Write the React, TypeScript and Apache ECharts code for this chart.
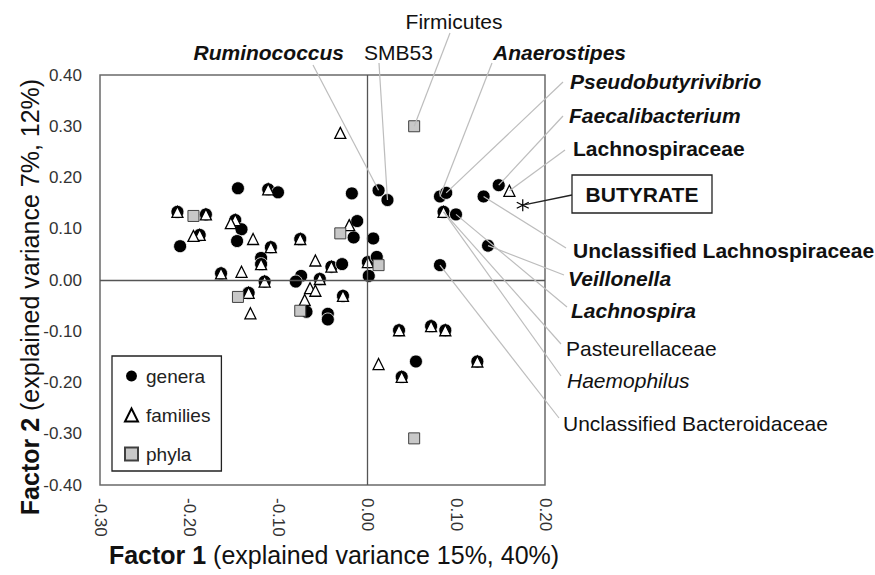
import React, { useEffect, useRef } from "react";
import * as echarts from "echarts";

const FONT = "'Liberation Sans', Arial, Helvetica, sans-serif";

// ---------- data (Factor 1, Factor 2) ----------
const genera: number[][] = [
  [-0.145, 0.179], [-0.213, 0.133], [-0.181, 0.128], [-0.148, 0.117], [-0.141, 0.099],
  [-0.146, 0.076], [-0.188, 0.088], [-0.210, 0.066], [-0.111, 0.177], [-0.100, 0.171],
  [-0.017, 0.169], [-0.108, 0.064], [-0.075, 0.080], [-0.011, 0.115], [-0.015, 0.083],
  [-0.119, 0.043], [-0.119, 0.031], [-0.164, 0.013], [-0.115, -0.003], [-0.133, -0.025],
  [-0.074, 0.008], [-0.080, -0.003], [-0.053, 0.002], [-0.040, 0.026], [-0.028, 0.031],
  [-0.027, -0.031], [-0.068, -0.062], [-0.044, -0.066], [-0.044, -0.077], [0.002, 0.008],
  [0.001, 0.035], [0.007, 0.081], [0.011, 0.045],
  [0.013, 0.175], // 33 Ruminococcus
  [0.023, 0.156], // 34 SMB53
  [0.082, 0.163], // 35 Anaerostipes
  [0.089, 0.170], // 36 Pseudobutyrivibrio
  [0.086, 0.133], // 37 Haemophilus
  [0.100, 0.128], // 38 Lachnospira
  [0.131, 0.163], // 39 Unclassified Lachnospiraceae
  [0.148, 0.185], // 40 Faecalibacterium
  [0.136, 0.067], // 41 Veillonella
  [0.082, 0.029], // 42 Unclassified Bacteroidaceae
  [0.036, -0.098], [0.072, -0.090], [0.088, -0.098], [0.055, -0.159], [0.124, -0.159],
  [0.039, -0.189],
];

const families: number[][] = [
  [-0.213, 0.133], [-0.181, 0.128], [-0.148, 0.117], [-0.188, 0.088], [-0.111, 0.177],
  [-0.108, 0.064], [-0.075, 0.080], [-0.119, 0.031], [-0.164, 0.013], [-0.115, -0.003],
  [-0.133, -0.025], [-0.053, 0.002], [-0.040, 0.026], [-0.027, -0.031], [0.001, 0.035],
  [0.086, 0.133], // 15 Pasteurellaceae
  [0.036, -0.098], [0.072, -0.090], [0.088, -0.098], [0.124, -0.159], [0.039, -0.189],
  [-0.153, 0.111], [-0.128, 0.080], [-0.195, 0.086], [-0.141, 0.016], [-0.131, -0.065],
  [-0.058, 0.038], [-0.070, -0.039], [-0.064, -0.016], [-0.058, -0.021], [-0.020, 0.107],
  [-0.030, 0.287],
  [0.160, 0.174], // 32 Lachnospiraceae
  [0.013, -0.164],
];

const phyla: number[][] = [
  [-0.195, 0.125], [-0.145, -0.033], [-0.075, -0.060], [-0.030, 0.091], [0.013, 0.029],
  [0.053, 0.300], // 5 Firmicutes
  [0.053, -0.309],
];

const butyrate: number[][] = [[0.175, 0.146]];

const xTicks = { min: -0.3, max: 0.2, interval: 0.1 };
const yTicks = { min: -0.4, max: 0.4, interval: 0.1 };

const legendNames = ["genera", "families", "phyla"];

// annotation texts and which point they refer to
const annotations = [
  { text: "Ruminococcus", kind: "g", idx: 33, weight: "bold", italic: true },
  { text: "SMB53", kind: "g", idx: 34, weight: "normal", italic: false },
  { text: "Firmicutes", kind: "p", idx: 5, weight: "normal", italic: false },
  { text: "Anaerostipes", kind: "g", idx: 35, weight: "bold", italic: true },
  { text: "Pseudobutyrivibrio", kind: "g", idx: 36, weight: "bold", italic: true },
  { text: "Faecalibacterium", kind: "g", idx: 40, weight: "bold", italic: true },
  { text: "Lachnospiraceae", kind: "f", idx: 32, weight: "bold", italic: false },
  { text: "Unclassified Lachnospiraceae", kind: "g", idx: 39, weight: "bold", italic: false },
  { text: "Veillonella", kind: "g", idx: 41, weight: "bold", italic: true },
  { text: "Lachnospira", kind: "g", idx: 38, weight: "bold", italic: true },
  { text: "Pasteurellaceae", kind: "f", idx: 15, weight: "normal", italic: false },
  { text: "Haemophilus", kind: "g", idx: 37, weight: "normal", italic: true },
  { text: "Unclassified Bacteroidaceae", kind: "g", idx: 42, weight: "normal", italic: false },
];

// layout (pixel) of each annotation: text anchor, alignment, leader start
const annotationLayout: Record<string, { tx: number; ty: number; align: string; lx: number; ly: number }> = {
  Ruminococcus: { tx: 344, ty: 52, align: "right", lx: 313, ly: 65 },
  SMB53: { tx: 364, ty: 52, align: "left", lx: 379, ly: 63 },
  Firmicutes: { tx: 454, ty: 21, align: "center", lx: 450, ly: 33 },
  Anaerostipes: { tx: 493, ty: 52, align: "left", lx: 492, ly: 63 },
  Pseudobutyrivibrio: { tx: 570, ty: 81, align: "left", lx: 563, ly: 82 },
  Faecalibacterium: { tx: 569, ty: 115, align: "left", lx: 563, ly: 116 },
  Lachnospiraceae: { tx: 573, ty: 148, align: "left", lx: 565, ly: 150 },
  "Unclassified Lachnospiraceae": { tx: 573, ty: 250, align: "left", lx: 566, ly: 248 },
  Veillonella: { tx: 568, ty: 278, align: "left", lx: 564, ly: 275 },
  Lachnospira: { tx: 571, ty: 310, align: "left", lx: 567, ly: 307 },
  Pasteurellaceae: { tx: 566, ty: 348, align: "left", lx: 561, ly: 344 },
  Haemophilus: { tx: 567, ty: 380, align: "left", lx: 561, ly: 376 },
  "Unclassified Bacteroidaceae": { tx: 563, ty: 423, align: "left", lx: 559, ly: 418 },
};

const fmt = (v: number) => (Math.abs(v) < 1e-9 ? "0.00" : v.toFixed(2));

const ASTERISK = "path://M6,0L6,12M0.8,3L11.2,9M0.8,9L11.2,3";

export default function App() {
  const ref = useRef<HTMLDivElement>(null);

  useEffect(() => {
    if (!ref.current) return;
    const chart = echarts.init(ref.current, null, { renderer: "svg" });
    const option: any = {
      animation: false,
      backgroundColor: "#ffffff",
      textStyle: { fontFamily: FONT },
      grid: {
        left: 100, top: 75, width: 445, height: 410,
        show: true, borderColor: "#6a6a6a", borderWidth: 1.5, backgroundColor: "transparent",
      },
      xAxis: {
        type: "value", ...xTicks,
        axisLine: { show: false }, axisTick: { show: false }, splitLine: { show: false },
        axisLabel: { rotate: -90, margin: 13, fontSize: 17, color: "#333", fontFamily: FONT, formatter: fmt },
      },
      yAxis: {
        type: "value", ...yTicks,
        axisLine: { show: false }, axisTick: { show: false }, splitLine: { show: false },
        axisLabel: { margin: 18, fontSize: 17, color: "#333", fontFamily: FONT, formatter: fmt },
      },
      legend: {
        data: legendNames,
        orient: "vertical",
        left: 112, top: 356,
        padding: [10, 11, 7, 12],
        itemGap: 19, itemWidth: 13, itemHeight: 13,
        borderColor: "#222", borderWidth: 1.3,
        textStyle: { fontSize: 19, color: "#222", fontFamily: FONT, lineHeight: 20, padding: [0, 0, 0, 3] },
      },
      series: [
        {
          name: "genera", type: "scatter", data: genera, symbol: "circle", symbolSize: 13, z: 2,
          itemStyle: { color: "#000", borderColor: "#fff", borderWidth: 0.8, opacity: 1 },
          markLine: {
            silent: true, symbol: ["none", "none"], label: { show: false },
            lineStyle: { color: "#555", width: 1.3, type: "solid" },
            data: [{ xAxis: 0 }, { yAxis: 0 }],
          },
        },
        {
          name: "families", type: "scatter", data: families, symbol: "triangle", symbolSize: 11, z: 3,
          itemStyle: { color: "#fff", borderColor: "#000", borderWidth: 1.3, opacity: 1 },
        },
        {
          name: "phyla", type: "scatter", data: phyla, symbol: "rect", symbolSize: 11, z: 4,
          itemStyle: { color: "#c8c8c8", borderColor: "#404040", borderWidth: 1, opacity: 1 },
        },
        {
          name: "BUTYRATE", type: "scatter", data: butyrate, symbol: ASTERISK, symbolSize: 12, z: 5,
          itemStyle: { color: "transparent", borderColor: "#000", borderWidth: 1.2, opacity: 1 },
        },
      ],
    };
    chart.setOption(option);

    const src: Record<string, number[][]> = { g: genera, f: families, p: phyla };
    const graphics: any[] = [];
    annotations.forEach((a) => {
      const L = annotationLayout[a.text];
      const pt = chart.convertToPixel({ gridIndex: 0 }, src[a.kind][a.idx]) as number[];
      graphics.push({
        type: "line", z: 20, silent: true,
        shape: { x1: L.lx, y1: L.ly, x2: pt[0], y2: pt[1] },
        style: { stroke: "#bdbdbd", lineWidth: 1.2 },
      });
      graphics.push({
        type: "text", z: 20, x: L.tx, y: L.ty, silent: true,
        style: {
          text: a.text, fill: "#111", fontFamily: FONT, fontSize: 21,
          fontWeight: a.weight, fontStyle: a.italic ? "italic" : "normal",
          align: L.align, verticalAlign: "middle", textAlign: L.align, textVerticalAlign: "middle",
        },
      });
    });
    // BUTYRATE box
    const bp = chart.convertToPixel({ gridIndex: 0 }, butyrate[0]) as number[];
    graphics.push({
      type: "line", z: 20, silent: true,
      shape: { x1: 572, y1: 195, x2: bp[0], y2: bp[1] },
      style: { stroke: "#222", lineWidth: 1.3 },
    });
    graphics.push({
      type: "rect", z: 20, silent: true,
      shape: { x: 572, y: 175, width: 140, height: 38 },
      style: { fill: "#fff", stroke: "#222", lineWidth: 1.3 },
    });
    graphics.push({
      type: "text", z: 21, x: 642, y: 194.5, silent: true,
      style: {
        text: "BUTYRATE", fill: "#111", fontFamily: FONT, fontSize: 21, fontWeight: "bold",
        align: "center", verticalAlign: "middle", textAlign: "center", textVerticalAlign: "middle",
      },
    });
    // axis titles
    const rich = {
      b: { fontFamily: FONT, fontSize: 25, fontWeight: "bold", fill: "#111", color: "#111" },
      r: { fontFamily: FONT, fontSize: 25, fontWeight: "normal", fill: "#111", color: "#111" },
    };
    graphics.push({
      type: "text", z: 20, x: 334, y: 555, silent: true,
      style: {
        text: "{b|Factor 1}{r| (explained variance 15%, 40%)}", rich,
        align: "center", verticalAlign: "middle", textAlign: "center", textVerticalAlign: "middle",
      },
    });
    graphics.push({
      type: "text", z: 20, x: 30, y: 297, rotation: Math.PI / 2, silent: true,
      style: {
        text: "{b|Factor 2}{r| (explained variance 7%, 12%)}", rich,
        align: "center", verticalAlign: "middle", textAlign: "center", textVerticalAlign: "middle",
      },
    });
    chart.setOption({ graphic: graphics });

    return () => chart.dispose();
  }, []);

  return (
    <div
      ref={ref}
      style={{ position: "fixed", left: 0, top: 0, width: 875, height: 575, background: "#fff" }}
    />
  );
}
